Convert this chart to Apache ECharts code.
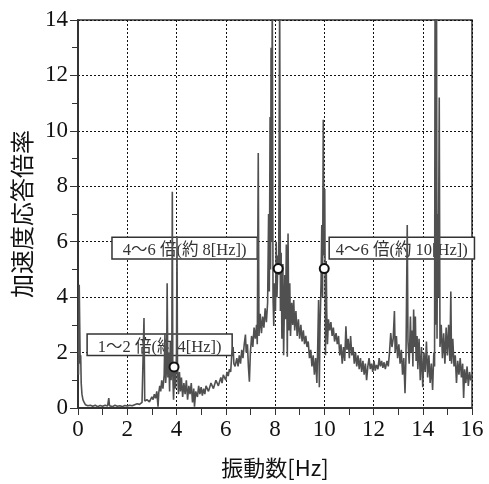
<!DOCTYPE html>
<html>
<head>
<meta charset="utf-8">
<script src="https://cdn.jsdelivr.net/npm/echarts@6/dist/echarts.min.js"></script>
<style>
html,body{margin:0;padding:0;background:#fff;}
#chart{width:489px;height:484px;}
</style>
</head>
<body>
<div id="chart"></div>
<script>
// Frequency [Hz], acceleration response ratio
const seg0to4 = [
  [0.02,1.2],[0.05,4.45],[0.07,3.0],[0.09,1.6],[0.11,1.9],[0.13,0.9],[0.16,0.5],[0.20,0.3],[0.25,0.2],[0.30,0.12],
  [0.35,0.15],[0.40,0.08],[0.50,0.10],[0.60,0.06],[0.70,0.10],[0.80,0.05],[0.90,0.09],[1.00,0.06],[1.10,0.10],[1.20,0.07],
  [1.25,0.36],[1.28,0.08],[1.40,0.05],[1.50,0.10],[1.60,0.06],[1.70,0.08],[1.80,0.05],[1.90,0.09],[2.00,0.07],[2.10,0.10],
  [2.20,0.08],[2.30,0.12],[2.40,0.15],[2.50,0.13],[2.60,0.20],[2.65,0.18],[2.68,3.25],[2.71,0.25],[2.80,0.30],[2.90,0.22],
  [3.00,0.40],[3.05,0.30],[3.10,0.50],[3.15,0.35],[3.20,0.60],[3.25,0.05],[3.28,0.55],[3.32,0.80],[3.36,0.60],[3.40,1.00],
  [3.45,0.70],[3.50,1.20],[3.53,2.70],[3.56,0.90],[3.60,1.50],[3.62,4.50],[3.65,1.10],[3.68,2.00],[3.72,0.60],[3.75,2.40],
  [3.78,1.00],[3.81,1.80],[3.83,7.80],[3.85,1.20],[3.88,0.30],[3.92,1.40],[3.96,0.70],[4.00,2.00]
];
const seg4to8 = [
  [4.02,6.2],[4.04,1.5],[4.08,0.5],[4.12,1.3],[4.16,0.6],[4.20,1.1],[4.25,0.4],[4.30,0.9],[4.35,0.5],[4.40,1.0],
  [4.45,0.3],[4.50,0.8],[4.55,0.5],[4.60,0.9],[4.65,0.2],[4.70,0.7],[4.73,0.05],[4.78,0.6],[4.85,0.4],[4.90,0.8],
  [4.95,0.5],[5.00,0.75],[5.05,0.45],[5.10,0.7],[5.15,0.5],[5.20,0.8],[5.30,0.6],[5.40,0.9],[5.50,0.7],[5.60,1.0],
  [5.70,0.8],[5.80,1.1],[5.85,0.9],[5.90,1.2],[6.00,1.0],[6.05,1.3],[6.10,1.15],[6.15,1.4],[6.20,1.3],[6.25,2.0],
  [6.30,2.2],[6.33,1.6],[6.38,1.5],[6.45,1.8],[6.50,1.5],[6.55,1.9],[6.60,1.6],[6.65,2.1],[6.70,1.8],[6.75,2.3],
  [6.80,2.65],[6.83,2.0],[6.88,2.3],[6.92,1.5],[6.96,0.95],[7.00,2.0],[7.05,2.6],[7.10,2.2],[7.15,2.9],[7.20,2.5],
  [7.25,3.0],[7.28,2.3],[7.32,9.2],[7.35,2.6],[7.40,3.4],[7.45,2.7],[7.50,3.3],[7.55,2.9],[7.60,3.6],[7.65,3.1],
  [7.70,3.8],[7.74,7.0],[7.77,4.2],[7.80,10.5],[7.82,5.0],[7.84,13.0],[7.86,6.0],[7.89,15.0],[7.92,4.0],[7.95,2.96],[7.98,4.5]
];
const seg8to12 = [
  [8.02,3.5],[8.05,6.0],[8.08,4.0],[8.12,5.5],[8.15,4.8],[8.19,15.0],[8.22,3.5],[8.25,5.6],[8.28,2.5],[8.32,5.2],
  [8.35,1.9],[8.40,4.8],[8.43,3.2],[8.46,5.9],[8.50,1.85],[8.53,6.3],[8.56,2.8],[8.60,4.5],[8.63,2.6],[8.68,3.8],
  [8.72,3.0],[8.76,3.9],[8.80,2.8],[8.85,3.5],[8.90,2.6],[8.95,3.2],[9.00,2.5],[9.05,3.0],[9.10,2.4],[9.15,2.8],
  [9.20,2.3],[9.25,2.6],[9.30,2.2],[9.35,2.4],[9.40,1.8],[9.45,2.1],[9.50,1.5],[9.55,1.9],[9.60,1.2],[9.65,1.8],
  [9.70,0.9],[9.73,2.0],[9.77,3.9],[9.80,0.75],[9.83,3.0],[9.87,4.5],[9.90,6.6],[9.93,4.0],[9.96,10.4],[9.99,5.5],
  [10.02,7.9],[10.05,1.9],[10.08,5.3],[10.10,3.5],[10.13,2.3],[10.17,3.2],[10.22,2.8],[10.27,3.1],[10.32,2.6],[10.37,2.9],
  [10.42,2.4],[10.48,2.7],[10.53,2.3],[10.58,2.6],[10.63,1.9],[10.68,2.3],[10.73,1.6],[10.78,2.2],[10.83,1.7],[10.88,2.95],
  [10.92,2.1],[10.97,2.5],[11.02,1.8],[11.07,2.6],[11.12,1.9],[11.17,2.2],[11.22,1.6],[11.27,2.0],[11.32,1.5],[11.37,1.9],
  [11.42,1.4],[11.47,1.8],[11.52,1.3],[11.57,1.7],[11.62,1.2],[11.67,1.6],[11.72,1.0],[11.77,1.5],[11.82,1.8],[11.87,1.4],
  [11.92,1.6],[11.97,1.3]
];
const seg12to16 = [
  [12.02,1.7],[12.07,1.35],[12.12,1.55],[12.18,1.4],[12.23,1.8],[12.28,1.5],[12.33,1.7],[12.38,1.45],[12.43,1.65],[12.48,1.4],
  [12.55,1.7],[12.60,1.5],[12.65,2.0],[12.70,2.7],[12.75,2.2],[12.80,2.5],[12.85,3.5],[12.88,2.0],[12.93,2.6],[12.98,1.8],
  [13.03,2.3],[13.08,1.6],[13.13,2.1],[13.18,1.2],[13.23,1.8],[13.28,0.53],[13.32,1.9],[13.37,6.6],[13.40,2.4],[13.45,1.6],
  [13.50,3.3],[13.53,2.0],[13.57,2.8],[13.60,1.5],[13.63,3.55],[13.66,2.2],[13.70,3.3],[13.73,1.7],[13.77,2.6],[13.80,1.4],
  [13.85,2.5],[13.90,1.0],[13.95,2.2],[14.00,0.75],[14.05,2.0],[14.10,1.3],[14.15,2.4],[14.20,1.1],[14.25,1.9],[14.30,0.9],
  [14.35,1.6],[14.40,0.65],[14.45,2.0],[14.48,1.5],[14.50,15.0],[14.52,3.0],[14.54,6.0],[14.56,15.0],[14.58,2.5],[14.60,7.0],
  [14.63,4.0],[14.67,11.2],[14.70,2.2],[14.75,3.0],[14.80,1.8],[14.85,2.7],[14.90,1.6],[14.95,2.9],[15.00,1.9],[15.05,3.0],
  [15.10,1.7],[15.14,4.2],[15.17,1.6],[15.22,2.5],[15.27,1.5],[15.32,1.9],[15.37,0.9],[15.42,1.7],[15.47,1.2],[15.52,1.8],
  [15.57,1.1],[15.62,1.6],[15.66,0.36],[15.70,1.4],[15.75,0.9],[15.80,1.5],[15.85,0.8],[15.90,1.3],[15.95,1.0],[16.00,1.2]
];
// Marked points (frequency, ratio)
const markedPoints = [[3.9,1.48],[8.13,5.03],[10.0,5.03]];
// Annotation labels and their boxes in data units [fLeft, vTop, fRight, vBottom]
const annotationTexts = ['1～2 倍(約 4[Hz])','4～6 倍(約 8[Hz])','4～6 倍(約 10[Hz])'];
const annotationBoxes = [[0.37,2.67,6.26,1.89],[1.38,6.16,7.28,5.38],[10.2,6.16,16.1,5.38]];
const xTicks = [0,16,2];
const yTicks = [0,14,2];

const spectrum = seg0to4.concat(seg4to8, seg8to12, seg12to16);
const serif = "'Liberation Serif','Noto Sans CJK JP',serif";
const sans = "'Noto Sans CJK JP','Noto Sans',sans-serif";

const chart = echarts.init(document.getElementById('chart'), null, {renderer:'canvas'});
const axisCommon = {
  type:'value',
  axisLine:{show:true, onZero:false, lineStyle:{color:'#333', width:2}},
  splitLine:{show:true, lineStyle:{color:'#111', width:1, type:[2,2]}},
  minorTick:{show:true, splitNumber:2, length:6, lineStyle:{color:'#333', width:1}},
  axisTick:{show:true, inside:false, length:8, lineStyle:{color:'#333', width:1}},
};
chart.setOption({
  animation:false,
  backgroundColor:'#fff',
  grid:{left:78, right:17, top:20, bottom:71, show:true, borderColor:'#333', borderWidth:1.5, backgroundColor:'transparent'},
  xAxis:Object.assign({}, axisCommon, {
    min:xTicks[0], max:xTicks[1], interval:xTicks[2],
    axisLabel:{fontFamily:serif, fontSize:23, color:'#111', margin:10},
    minorTick:{show:true, splitNumber:2, length:7, lineStyle:{color:'#333', width:1}},
    axisTick:{show:true, length:7, lineStyle:{color:'#333', width:1}},
    name:'振動数[Hz]', nameLocation:'middle', nameGap:49,
    nameTextStyle:{fontFamily:sans, fontSize:22, color:'#111'}
  }),
  yAxis:Object.assign({}, axisCommon, {
    min:yTicks[0], max:yTicks[1], interval:yTicks[2],
    axisLabel:{fontFamily:serif, fontSize:23, color:'#111', margin:10},
    name:'加速度応答倍率', nameLocation:'middle', nameGap:42, nameRotate:90,
    nameTextStyle:{fontFamily:sans, fontSize:24, color:'#111'}
  }),
  series:[
    {type:'line', data:spectrum, showSymbol:false, symbol:'none', clip:true, z:3,
     lineStyle:{color:'#505050', width:1.6}},
    {type:'scatter', data:markedPoints, symbol:'circle', symbolSize:9, z:5,
     itemStyle:{color:'#fff', borderColor:'#111', borderWidth:2, opacity:1}}
  ]
});

function drawBoxes(){
  const els = [];
  annotationBoxes.forEach((b,i)=>{
    const p1 = chart.convertToPixel({gridIndex:0},[b[0],b[1]]);
    const p2 = chart.convertToPixel({gridIndex:0},[b[2],b[3]]);
    const w = p2[0]-p1[0], h = p2[1]-p1[1];
    els.push({type:'rect', z:1, shape:{x:p1[0], y:p1[1], width:w, height:h},
      style:{fill:'#fff', stroke:'#333', lineWidth:1.5}});
    els.push({type:'text', z:1, x:p1[0]+w/2, y:p1[1]+h/2+3,
      style:{text:annotationTexts[i], font:'16.5px '+serif, fill:'#333', align:'center', verticalAlign:'middle'}});
  });
  chart.setOption({graphic:{elements:els}});
}
drawBoxes();
</script>
</body>
</html>
